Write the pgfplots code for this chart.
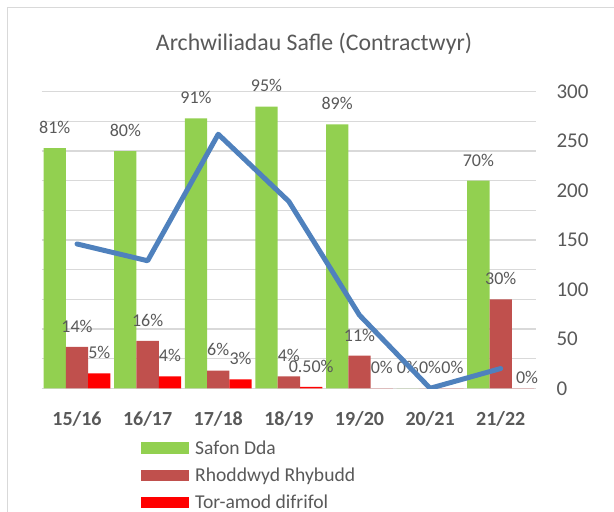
\documentclass[border=0pt]{standalone}
\usepackage{pgfplots}
\pgfplotsset{compat=1.18}
\usepackage{pgfplotstable}
\usepackage{fontspec}
\setmainfont{Carlito}
\definecolor{cgreen}{HTML}{92D050}
\definecolor{cdred}{HTML}{C0504D}
\definecolor{cred}{HTML}{FF0000}
\definecolor{cblue}{HTML}{4F81BD}
\definecolor{cgrid}{HTML}{D9D9D9}
\definecolor{ctext}{HTML}{595959}
\pgfplotsset{mylegend/.style={legend image code/.code={\fill[##1,draw=none] (0bp,-5.85bp) rectangle (48bp,5.85bp);}}}
\pgfplotstableread{
x y lab
0 0.81 81\%
1 0.80 80\%
2 0.91 91\%
3 0.95 95\%
4 0.89 89\%
5 0 0\%
6 0.70 70\%
}\safon
\pgfplotstableread{
x y lab
0 0.14 14\%
1 0.16 16\%
2 0.06 6\%
3 0.04 4\%
4 0.11 11\%
5 0 0\%
6 0.30 30\%
}\rhybudd
\pgfplotstableread{
x y lab
0 0.05 5\%
1 0.04 4\%
2 0.03 3\%
3 0.005 0.50\%
4 0 0\%
5 0 0\%
6 0 0\%
}\toramod
\begin{document}
\begin{tikzpicture}
\useasboundingbox (0bp,0bp) rectangle (614bp,512bp);
\draw[cgrid, line width=1.3bp] (7.3bp,-20bp) rectangle (640bp,504.7bp);
\begin{axis}[
  at={(41.7bp,123.7bp)}, anchor=south west,
  scale only axis, width=494.3bp, height=296.6bp,
  xmin=-0.5, xmax=6.5, ymin=0, ymax=1,
  ybar=0pt, bar width=22.3bp,
  axis line style={draw=none},
  major tick length=0pt,
  ytick={0,0.1,...,1.01}, yticklabels={},
  ymajorgrids, grid style={cgrid, line width=1.3bp},
  xtick={0,...,6},
  xticklabels={15/16,16/17,17/18,18/19,19/20,20/21,21/22},
  xticklabel style={font=\fontsize{20bp}{24bp}\selectfont\bfseries, text=ctext, yshift=-20bp},
  clip=false,
  nodes near coords,
  point meta=explicit symbolic,
  every node near coord/.append style={font=\fontsize{18bp}{21bp}\selectfont, text=ctext, yshift=11bp},
  title={Archwiliadau Safle (Contractwyr)},
  title style={at={(axis description cs:0.551,1.141)}, anchor=center, font=\fontsize{23.8bp}{28bp}\selectfont, text=ctext},
  legend style={at={(axis description cs:0.2009,-0.176)}, anchor=north west, draw=none, fill=none, inner sep=0pt, row sep=12bp, font=\fontsize{19.6bp}{23bp}\selectfont, text=ctext, nodes={inner sep=0pt}, /tikz/every odd column/.append style={column sep=6bp}},
  legend cell align=left,
]
\addplot[fill=cgreen, draw=none, mylegend] table[x=x, y=y, meta=lab] {\safon};
\addlegendentry{Safon Dda}
\addplot[fill=cdred, draw=none, mylegend] table[x=x, y=y, meta=lab] {\rhybudd};
\addlegendentry{Rhoddwyd Rhybudd}
\addplot[fill=cred, draw=none, mylegend, coordinate style/.condition={x==6}{yshift=-10bp, xshift=4bp}] table[x=x, y=y, meta=lab] {\toramod};
\addlegendentry{Tor-amod difrifol}
\end{axis}
\begin{axis}[
  at={(41.7bp,123.7bp)}, anchor=south west,
  scale only axis, width=494.3bp, height=296.6bp,
  xmin=-0.5, xmax=6.5, ymin=0, ymax=300,
  axis x line=none, axis y line*=right,
  axis line style={draw=none},
  major tick length=0pt,
  ytick={0,50,...,300},
  /pgf/number format/assume math mode=true,
  yticklabel style={font=\fontsize{21bp}{25bp}\selectfont, text=ctext, anchor=west, xshift=17bp},
]
\addplot[cblue, line width=5bp, line join=round, line cap=round] coordinates {(0,146) (1,129) (2,257) (3,189) (4,74) (5,0) (6,20)};
\end{axis}
\end{tikzpicture}
\end{document}
